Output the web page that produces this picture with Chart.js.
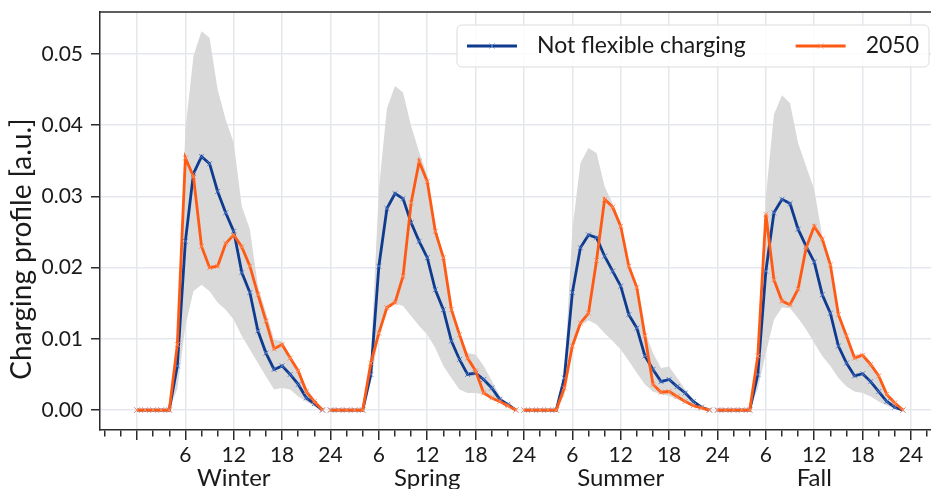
<!DOCTYPE html>
<html>
<head>
<meta charset="utf-8">
<script src="https://cdn.jsdelivr.net/npm/chart.js@4.4.0/dist/chart.umd.min.js"></script>
<style>
  html, body { margin: 0; padding: 0; background: #fff; overflow: hidden; }
  #chartContainer { position: relative; width: 945px; height: 489px; }
</style>
</head>
<body>
<div id="chartContainer"><canvas id="myChart"></canvas></div>
<script>
// Estaciones y horas (0..23) de cada perfil
var seasons = ['Winter', 'Spring', 'Summer', 'Fall'];
var hours = [0,1,2,3,4,5,6,7,8,9,10,11,12,13,14,15,16,17,18,19,20,21,22,23];

// Not flexible charging
var winterBase = [0,0,0,0,0,0.0062,0.0237,0.0332,0.0356,0.0346,0.0307,0.0277,0.0251,0.0193,0.0165,0.0111,0.0080,0.0057,0.0062,0.0050,0.0036,0.0017,0.0009,0];
var springBase = [0,0,0,0,0,0.0050,0.0202,0.0283,0.0304,0.0297,0.0263,0.0237,0.0214,0.0169,0.0141,0.0097,0.0071,0.0050,0.0052,0.0043,0.0031,0.0015,0.0008,0];
var summerBase = [0,0,0,0,0,0.0045,0.0165,0.0228,0.0246,0.0242,0.0216,0.0195,0.0174,0.0134,0.0115,0.0076,0.0057,0.0040,0.0043,0.0033,0.0024,0.0012,0.0004,0];
var fallBase   = [0,0,0,0,0,0.0050,0.0195,0.0277,0.0296,0.0290,0.0254,0.0230,0.0208,0.0162,0.0136,0.0090,0.0066,0.0048,0.0051,0.0040,0.0026,0.0012,0.0004,0];

// 2050
var winter2050 = [0,0,0,0,0,0.0092,0.0354,0.0328,0.0230,0.0200,0.0202,0.0234,0.0246,0.0229,0.0202,0.0162,0.0125,0.0086,0.0092,0.0073,0.0055,0.0026,0.0012,0];
var spring2050 = [0,0,0,0,0,0.0066,0.0108,0.0144,0.0151,0.0188,0.0291,0.0349,0.0321,0.0251,0.0214,0.0141,0.0106,0.0073,0.0055,0.0024,0.0017,0.0012,0.0006,0];
var summer2050 = [0,0,0,0,0,0.0031,0.0090,0.0122,0.0136,0.0210,0.0296,0.0285,0.0258,0.0202,0.0172,0.0104,0.0036,0.0025,0.0026,0.0019,0.0012,0.0006,0.0003,0];
var fall2050   = [0,0,0,0,0,0.0076,0.0275,0.0183,0.0153,0.0148,0.0170,0.0228,0.0258,0.0240,0.0204,0.0134,0.0104,0.0073,0.0077,0.0064,0.0048,0.0022,0.0010,0];

// Banda gris (max / min)
var winterMax = [0,0,0,0,0,0.0100,0.0394,0.0497,0.0532,0.0523,0.0450,0.0408,0.0375,0.0286,0.0254,0.0174,0.0137,0.0099,0.0097,0.0076,0.0057,0.0032,0.0015,0];
var winterMin = [0,0,0,0,0,0.0030,0.0118,0.0167,0.0176,0.0167,0.0151,0.0141,0.0127,0.0104,0.0085,0.0066,0.0047,0.0029,0.0031,0.0029,0.0019,0.0012,0.0005,0];
var springMax = [0,0,0,0,0,0.0072,0.0310,0.0424,0.0455,0.0446,0.0399,0.0362,0.0330,0.0260,0.0216,0.0143,0.0108,0.0080,0.0078,0.0062,0.0041,0.0020,0.0008,0];
var springMin = [0,0,0,0,0,0.0040,0.0105,0.0142,0.0150,0.0146,0.0132,0.0118,0.0106,0.0087,0.0062,0.0045,0.0029,0.0024,0.0024,0.0022,0.0015,0.0010,0.0005,0];
var summerMax = [0,0,0,0,0,0.0047,0.0254,0.0347,0.0368,0.0361,0.0314,0.0290,0.0262,0.0205,0.0176,0.0110,0.0080,0.0059,0.0061,0.0045,0.0029,0.0015,0.0005,0];
var summerMin = [0,0,0,0,0,0.0020,0.0087,0.0118,0.0126,0.0120,0.0108,0.0097,0.0085,0.0069,0.0052,0.0036,0.0026,0.0022,0.0020,0.0015,0.0010,0.0005,0.0002,0];
var fallMax   = [0,0,0,0,0,0.0080,0.0300,0.0415,0.0442,0.0431,0.0375,0.0342,0.0310,0.0244,0.0208,0.0138,0.0108,0.0078,0.0079,0.0067,0.0050,0.0024,0.0010,0];
var fallMin   = [0,0,0,0,0,0.0030,0.0080,0.0127,0.0144,0.0143,0.0129,0.0113,0.0094,0.0076,0.0062,0.0045,0.0033,0.0026,0.0024,0.0019,0.0012,0.0006,0.0002,0];

var yTicks = [0, 0.01, 0.02, 0.03, 0.04, 0.05];
var seasonTicks = [12, 36, 60, 84];

var fontFamily = 'Lato, "Noto Sans", sans-serif';
var blue = '#0f3b8f';
var orange = '#ff5a14';
var bandColor = '#d9d9d9';
var gridColor = '#e4e8ed';
var axisColor = '#2b2b2b';
var xMin = -4.59, xMax = 99.6;

// une las 4 estaciones en un solo eje (0..95), con un hueco entre estaciones
function seriesPoints(perSeason) {
    var pts = [];
    for (var s = 0; s < perSeason.length; s++) {
        for (var h = 0; h < hours.length; h++) {
            pts.push({x: s * 24 + hours[h], y: perSeason[s][h]});
        }
        if (s < perSeason.length - 1) pts.push({x: s * 24 + 23.5, y: null});
    }
    return pts;
}
function seasonPoints(s, arr) {
    return hours.map(function(h) { return {x: s * 24 + h, y: arr[h]}; });
}

var datasets = [
    {
        label: '2050',
        data: seriesPoints([winter2050, spring2050, summer2050, fall2050]),
        borderColor: orange,
        backgroundColor: orange,
        borderWidth: 2.8,
        pointStyle: 'crossRot',
        pointRadius: 3.5,
        pointBorderWidth: 1,
        pointBorderColor: 'rgba(255,140,90,0.9)',
        fill: false,
        order: 0
    },
    {
        label: 'Not flexible charging',
        data: seriesPoints([winterBase, springBase, summerBase, fallBase]),
        borderColor: blue,
        backgroundColor: blue,
        borderWidth: 2.8,
        pointStyle: 'crossRot',
        pointRadius: 3.5,
        pointBorderWidth: 1,
        pointBorderColor: 'rgba(80,120,200,0.9)',
        fill: false,
        order: 1
    }
];
var maxArrs = [winterMax, springMax, summerMax, fallMax];
var minArrs = [winterMin, springMin, summerMin, fallMin];
for (var s = 0; s < seasons.length; s++) {
    datasets.push({
        label: 'band-max-' + s,
        data: seasonPoints(s, maxArrs[s]),
        borderWidth: 0,
        pointRadius: 0,
        backgroundColor: bandColor,
        fill: '+1',
        order: 2
    });
    datasets.push({
        label: 'band-min-' + s,
        data: seasonPoints(s, minArrs[s]),
        borderWidth: 0,
        pointRadius: 0,
        fill: false,
        order: 2
    });
}

// marco superior/derecho y leyenda con recuadro
var framePlugin = {
    id: 'framePlugin',
    afterDraw: function(chart) {
        var ctx = chart.ctx;
        var a = chart.chartArea;
        ctx.save();
        ctx.strokeStyle = axisColor;
        ctx.lineWidth = 1.5;
        ctx.beginPath();
        ctx.moveTo(a.left, a.top);
        ctx.lineTo(a.right, a.top);
        ctx.lineTo(a.right, a.bottom);
        ctx.stroke();

        // leyenda
        var items = [datasets[1], datasets[0]];
        ctx.font = '23px ' + fontFamily;
        var handle = 50, gapText = 20, colGap = 50, pad = 10;
        var total = pad * 2;
        items.forEach(function(d, i) {
            total += handle + gapText + ctx.measureText(d.label).width;
            if (i > 0) total += colGap;
        });
        var boxRight = a.right - 11;
        var boxLeft = boxRight - total;
        var boxTop = a.top + 13;
        var boxH = 42;
        ctx.fillStyle = 'rgba(255,255,255,0.85)';
        ctx.strokeStyle = '#dcdcdc';
        ctx.lineWidth = 1;
        ctx.beginPath();
        ctx.roundRect(boxLeft, boxTop, total, boxH, 5);
        ctx.fill();
        ctx.stroke();
        var x = boxLeft + pad;
        var cy = boxTop + boxH / 2;
        items.forEach(function(d, i) {
            if (i > 0) x += colGap;
            ctx.strokeStyle = d.borderColor;
            ctx.lineWidth = 2.8;
            ctx.beginPath();
            ctx.moveTo(x, cy);
            ctx.lineTo(x + handle, cy);
            ctx.stroke();
            ctx.strokeStyle = d.pointBorderColor;
            ctx.lineWidth = 1;
            ctx.beginPath();
            ctx.moveTo(x + handle / 2 - 2.5, cy - 2.5);
            ctx.lineTo(x + handle / 2 + 2.5, cy + 2.5);
            ctx.moveTo(x + handle / 2 + 2.5, cy - 2.5);
            ctx.lineTo(x + handle / 2 - 2.5, cy + 2.5);
            ctx.stroke();
            x += handle + gapText;
            ctx.fillStyle = '#1a1a1a';
            ctx.textBaseline = 'middle';
            ctx.textAlign = 'left';
            ctx.fillText(d.label, x, cy);
            x += ctx.measureText(d.label).width;
        });
        ctx.restore();
    }
};

var ctx = document.getElementById('myChart').getContext('2d');
var myChart = new Chart(ctx, {
    type: 'line',
    data: { datasets: datasets },
    options: {
        responsive: true,
        maintainAspectRatio: false,
        animation: false,
        layout: { padding: { top: 12, right: 5, left: 0, bottom: 0 } },
        plugins: {
            legend: { display: false },
            tooltip: { enabled: false }
        },
        scales: {
            x: {
                type: 'linear',
                min: xMin,
                max: xMax,
                weight: 0,
                afterFit: function(scale) {
                    scale.height = 38;
                    scale.paddingLeft = 0;
                    scale.paddingRight = 0;
                },
                border: { color: axisColor, width: 1.5 },
                grid: {
                    color: function(c) { return c.tick && c.tick.value % 6 === 0 ? gridColor : 'rgba(0,0,0,0)'; },
                    lineWidth: 1.5,
                    tickLength: 10,
                    tickWidth: 1.5,
                    tickColor: axisColor,
                    tickBorderDash: function(c) { return c.tick && c.tick.value % 6 === 0 ? [] : [6, 30]; }
                },
                ticks: {
                    stepSize: 2,
                    includeBounds: false,
                    autoSkip: false,
                    maxRotation: 0,
                    minRotation: 0,
                    padding: 3,
                    color: '#1a1a1a',
                    font: { family: fontFamily, size: 21 },
                    callback: function(value) {
                        if (value <= 0 || value % 6 !== 0) return '';
                        return String(value % 24 === 0 ? 24 : value % 24);
                    }
                }
            },
            // segunda fila: nombre de la estacion
            x2: {
                type: 'linear',
                position: 'bottom',
                min: xMin,
                max: xMax,
                weight: 1,
                afterFit: function(scale) {
                    scale.height = 21;
                    scale.paddingLeft = 0;
                    scale.paddingRight = 0;
                },
                afterBuildTicks: function(scale) {
                    scale.ticks = seasonTicks.map(function(v) { return {value: v}; });
                },
                border: { display: false },
                grid: { display: false, drawTicks: false },
                ticks: {
                    autoSkip: false,
                    maxRotation: 0,
                    minRotation: 0,
                    padding: -4,
                    color: '#1a1a1a',
                    font: { family: fontFamily, size: 24 },
                    callback: function(value) { return seasons[seasonTicks.indexOf(value)]; }
                }
            },
            y: {
                min: -0.0028,
                max: 0.0559,
                afterFit: function(scale) {
                    scale.width = 100;
                    scale.paddingTop = 0;
                    scale.paddingBottom = 0;
                },
                afterBuildTicks: function(scale) {
                    scale.ticks = yTicks.map(function(v) { return {value: v}; });
                },
                border: { color: axisColor, width: 1.5 },
                grid: {
                    color: gridColor,
                    lineWidth: 1.5,
                    tickLength: 9,
                    tickWidth: 1.5,
                    tickColor: axisColor
                },
                ticks: {
                    padding: 8,
                    color: '#1a1a1a',
                    font: { family: fontFamily, size: 21 },
                    callback: function(value) { return value.toFixed(2); }
                },
                title: {
                    display: true,
                    text: 'Charging profile [a.u.]\u2002\u2002\u2002\u2002',
                    color: '#1a1a1a',
                    font: { family: fontFamily, size: 28, lineHeight: 1 },
                    padding: { top: 8, bottom: 0 }
                }
            }
        }
    },
    plugins: [framePlugin]
});
</script>
</body>
</html>
